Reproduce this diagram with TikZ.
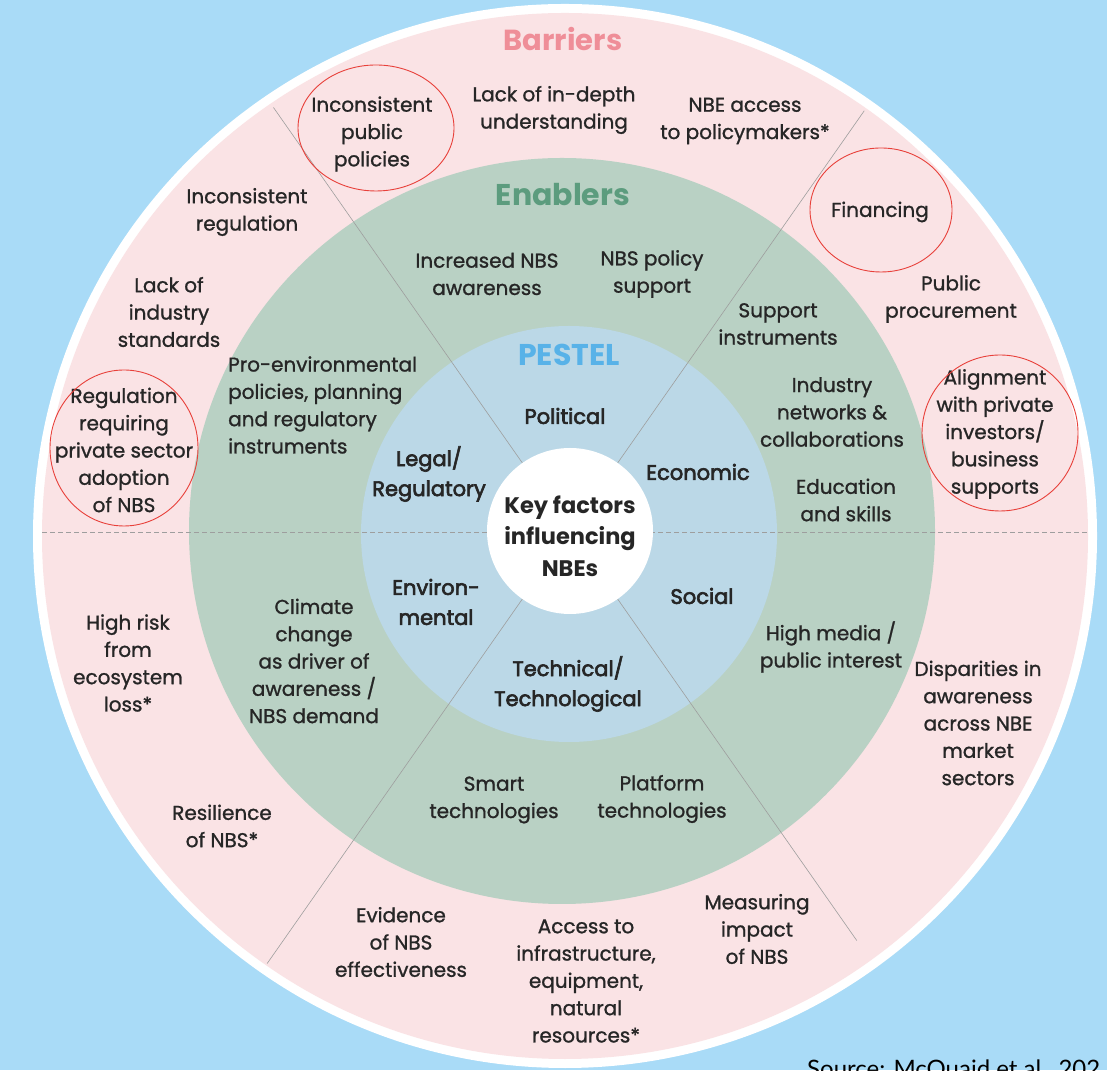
\documentclass[tikz,border=0pt]{standalone}
\usepackage{fontspec}
\setmainfont{Poppins}
\newfontfamily\medfont[FakeBold=1.1]{Poppins}
\newfontfamily\semifont[FakeBold=3]{Poppins}
\newfontfamily\srcfont{Lato}
\usetikzlibrary{calc}

\definecolor{bgblue}{HTML}{A9DBF7}
\definecolor{barfill}{HTML}{FAE3E5}
\definecolor{enafill}{HTML}{B9D1C4}
\definecolor{pesfill}{HTML}{BBD8E7}
\definecolor{barhead}{HTML}{EF8E98}
\definecolor{enahead}{HTML}{5C9C7E}
\definecolor{peshead}{HTML}{58B2E8}
\definecolor{ringred}{HTML}{E8403A}
\definecolor{txtdark}{HTML}{262626}

\tikzset{
  barrier/.style={align=center, text=txtdark, inner sep=1pt, font=\medfont\fontsize{20}{27.3}\selectfont},
  enabler/.style={align=center, text=txtdark, inner sep=1pt, font=\medfont\fontsize{20}{27.3}\selectfont},
  factor/.style={align=center, text=txtdark, font=\semifont\fontsize{21}{30}\selectfont},
  heading/.style={font=\bfseries\fontsize{29}{34}\selectfont},
  divider/.style={draw=black!38, line width=0.6pt},
  redring/.style={draw=ringred, line width=0.9pt}
}

\begin{document}
\begin{tikzpicture}[x=1pt,y=1pt]
  %%%%% rings %%%%%
  \fill[bgblue] (0,0) rectangle (1107,1070);
  \useasboundingbox (0,0) rectangle (1107,1070);
  \coordinate (c) at (570,539);

  \fill[white] (565,534) circle (532pt);
  \fill[barfill] (565,534) circle (523pt);
  \fill[enafill] (562,539) circle (373pt);
  \fill[pesfill] (569,536) circle (208pt);

  \draw[divider, dash pattern=on 5pt off 3pt] (42,538) -- (1088,538);
  \foreach \a/\r in {55/513,125/517,235/528,305/500}
    \draw[divider] (c) -- ($(c)+(\a:\r pt)$);

  \fill[white] (c) circle (83pt);

  %%%%% headings %%%%%
  \node[heading, text=barhead] (barriers) at (563,1031) {Barriers};
  \node[heading, text=enahead, font=\bfseries\fontsize{30}{34}\selectfont] (enablers) at (563,875) {Enablers};
  \node[heading, text=peshead, font=\bfseries\fontsize{30}{34}\selectfont] (pestel) at (569,715) {PESTEL};

  \node[align=center, text=txtdark, font=\bfseries\fontsize{22.5}{31.4}\selectfont] (keyfactors) at (570,534)
    {Key factors\\influencing\\NBEs};

  %%%%% PESTEL %%%%%
  \node[factor] (political) at (565,654) {Political};
  \node[factor] (economic) at (698,598) {Economic};
  \node[factor] (social) at (702,474) {Social};
  \node[factor] (technical) at (568,386) {Technical/\\Technological};
  \node[factor] (environmental) at (436,468) {Environ-\\mental};
  \node[factor] (legal) at (429,596) {Legal/\\Regulatory};

  %%%%% enablers %%%%%
  \node[enabler] (eAware) at (487,796) {Increased NBS\\awareness};
  \node[enabler] (ePolicy) at (652,796) {NBS policy\\support};
  \node[enabler] (eSupport) at (778,746) {Support\\instruments};
  \node[enabler] (eNetworks) at (832,658) {Industry\\networks \&\\collaborations};
  \node[enabler] (eSkills) at (846,570) {Education\\and skills};
  \node[enabler] (eMedia) at (831,423) {High media /\\public interest};
  \node[enabler] (ePlatform) at (662,271) {Platform\\technologies};
  \node[enabler] (eSmart) at (494,270) {Smart\\technologies};
  \node[enabler] (eClimate) at (314,409) {Climate\\change\\as driver of\\awareness /\\NBS demand};
  \node[enabler, align=left, anchor=west] (eProEnv) at (227,665)
    {Pro-environmental\\policies, planning\\and regulatory\\instruments};

  %%%%% barriers %%%%%
  \node[barrier] (bPublic) at (372,936) {Inconsistent\\public\\policies};
  \node[barrier] (bDepth) at (554,960) {Lack of in-depth\\understanding};
  \node[barrier] (bAccess) at (745,949) {NBE access\\to policymakers*};
  \node[barrier] (bFinance) at (880,858) {Financing};
  \node[barrier] (bProcure) at (951,771) {Public\\procurement};
  \node[barrier] (bAlign) at (995,636) {Alignment\\with private\\investors/\\business\\supports};
  \node[barrier] (bDispar) at (978,347) {Disparities in\\awareness\\across NBE\\market\\sectors};
  \node[barrier] (bMeasure) at (757,141) {Measuring\\impact\\of NBS};
  \node[barrier] (bInfra) at (586,89) {Access to\\infrastructure,\\equipment,\\natural\\resources*};
  \node[barrier] (bEvidence) at (401,128) {Evidence\\of NBS\\effectiveness};
  \node[barrier] (bResil) at (222,244) {Resilience\\of NBS*};
  \node[barrier] (bRisk) at (128,407) {High risk\\from\\ecosystem\\loss*};
  \node[barrier] (bRegReq) at (124,620) {Regulation\\requiring\\private sector\\adoption\\of NBS};
  \node[barrier] (bStandards) at (169,758) {Lack of\\industry\\standards};
  \node[barrier] (bRegul) at (247,858) {Inconsistent\\regulation};

  %%%%% highlights %%%%%
  \draw[redring] (376,942) ellipse (78pt and 63pt);
  \draw[redring] (881,860) ellipse (71pt and 62pt);
  \draw[redring] (1000,637) ellipse (78pt and 78pt);
  \draw[redring] (124,622) ellipse (74pt and 78pt);

  \node[anchor=base west, font=\srcfont\fontsize{24}{28}\selectfont, text=black, inner sep=0pt] (source) at (807,-7)
    {Source: McQuaid et al., 202};
\end{tikzpicture}
\end{document}
